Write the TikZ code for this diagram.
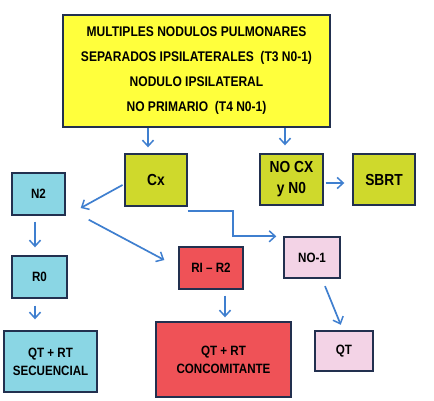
\documentclass[tikz,border=0pt]{standalone}
\usepackage{fontspec}
\setmainfont{Liberation Sans}[FakeStretch=0.86]
\definecolor{BoxYellow}{HTML}{FFFF3C}
\definecolor{BoxOlive}{HTML}{CFD92C}
\definecolor{BoxCyan}{HTML}{8AD6E4}
\definecolor{BoxRed}{HTML}{EF5257}
\definecolor{BoxPink}{HTML}{F3D3E6}
\definecolor{BoxLine}{HTML}{22304F}
\definecolor{ArrBlue}{HTML}{3F7FCF}
\usetikzlibrary{arrows.meta, calc}

\begin{document}
\begin{tikzpicture}[x=1pt, y=-1pt,
    box/.style={draw=BoxLine, line width=1.4pt, align=center, inner sep=0pt,
      font=\bfseries\fontsize{13.5}{18}\selectfont},
    bigtext/.style={font=\bfseries\fontsize{16}{21}\selectfont},
    arr/.style={draw=ArrBlue, line width=1.7pt,
      -{Straight Barb[length=6pt, width=11pt, line width=1.5pt]}}]
  \useasboundingbox (0,0) rectangle (434,400);
  \node[box, fill=BoxYellow, minimum width=267pt, minimum height=112pt,
    font=\bfseries\fontsize{14}{25}\selectfont] (top) at (196.5,71)
    {MULTIPLES NODULOS PULMONARES\\SEPARADOS IPSILATERALES~~(T3 N0-1)\\NODULO IPSILATERAL\\NO PRIMARIO~~(T4 N0-1)};
  \node[box, bigtext, fill=BoxOlive, minimum width=62pt, minimum height=52pt] (cx) at (156,180) {Cx};
  \node[box, bigtext, fill=BoxOlive, minimum width=63pt, minimum height=51pt] (nocx) at (291.5,179.5) {NO CX\\y N0};
  \node[box, bigtext, fill=BoxOlive, minimum width=62pt, minimum height=51pt] (sbrt) at (384,179.5) {SBRT};
  \node[box, fill=BoxCyan, minimum width=53pt, minimum height=42pt] (n2) at (38.5,194) {N2};
  \node[box, fill=BoxCyan, minimum width=55pt, minimum height=42pt] (r0) at (39.5,277) {R0};
  \node[box, fill=BoxCyan, minimum width=93pt, minimum height=61pt] (qtsec) at (50.5,361.5) {QT + RT\\SECUENCIAL};
  \node[box, fill=BoxRed, minimum width=64pt, minimum height=42pt] (ri) at (211,268) {RI -- R2};
  \node[box, fill=BoxRed, minimum width=135pt, minimum height=75pt] (conc) at (223.5,359.5) {QT + RT\\CONCOMITANTE};
  \node[box, fill=BoxPink, minimum width=56pt, minimum height=41pt] (no1) at (312,257.5) {NO-1};
  \node[box, fill=BoxPink, minimum width=58pt, minimum height=40pt] (qt) at (344,351) {QT};

  \draw[arr, shorten >=6pt] ([xshift=-8pt]cx.north |- top.south) -- ([xshift=-8pt]cx.north);
  \draw[arr, shorten >=8pt] ([xshift=-6.5pt]nocx.north |- top.south) -- ([xshift=-6.5pt]nocx.north);
  \draw[arr, shorten <=2pt, shorten >=8pt] ([yshift=-3.5pt]nocx.east) -- ([yshift=-3.5pt]sbrt.west);
  \draw[arr, shorten <=2pt] ([yshift=-4pt]cx.west) -- ([xshift=15pt, yshift=-14pt]n2.east);
  \draw[arr] ([xshift=23pt, yshift=-4pt]n2.south east) -- ([xshift=-14pt, yshift=8pt]ri.west);
  \draw[arr] ([yshift=-4pt]cx.south east) -- ++(45,0) |- ([xshift=-7pt]no1.north west);
  \draw[arr, shorten <=6pt, shorten >=8pt] ([xshift=-3.5pt]n2.south) -- ([xshift=-3.5pt]n2.south |- r0.north);
  \draw[arr, shorten <=7pt, shorten >=11pt] ([xshift=-4.5pt]r0.south) -- ([xshift=-4.5pt]r0.south |- qtsec.north);
  \draw[arr, shorten <=6pt, shorten >=4pt] ([xshift=1.5pt]conc.north |- ri.south) -- ([xshift=1.5pt]conc.north);
  \draw[arr, shorten <=8pt, shorten >=6pt] ([xshift=10pt]no1.south) -- ([xshift=-1pt]qt.north);
\end{tikzpicture}
\end{document}
